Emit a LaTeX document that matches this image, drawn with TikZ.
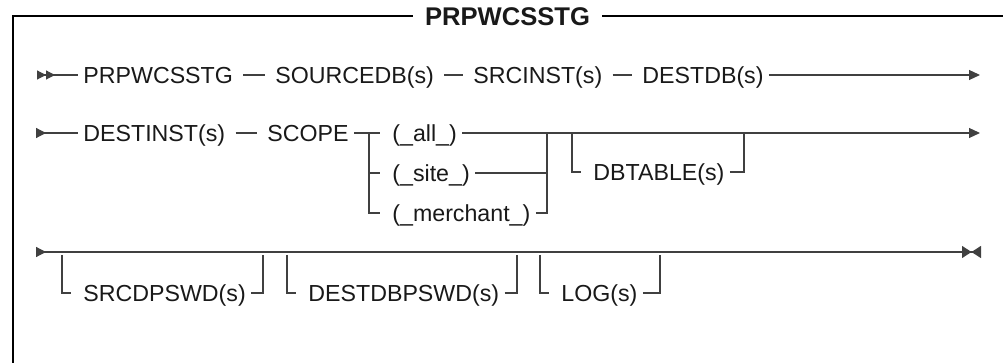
\documentclass[tikz,border=0pt]{standalone}
\usepackage{fontspec}
\setmainfont{Liberation Sans}
\usetikzlibrary{arrows.meta}

\tikzset{%
  rail/.style={draw=black!75, line width=0.6pt},%
  word/.style={anchor=west, inner xsep=2.5pt, inner ysep=0pt, text height=8.3pt, text depth=0pt, text=black!90, font=\fontsize{11.6pt}{14pt}\selectfont},%
  link/.style={rail, shorten <=2.5pt, shorten >=2.5pt},%
  stub/.style={rail, shorten >=3.5pt},%
  boxline/.style={draw=black, line width=1.1pt, line join=miter},%
  onward/.style={rail, -{Triangle[length=5.5pt,width=5pt]}},%
}

\begin{document}
\begin{tikzpicture}[x=0.5pt,y=-0.5pt]%
\useasboundingbox (0,0) rectangle (1003,363);%
% frame and title
\node[font=\bfseries\fontsize{12.8pt}{15pt}\selectfont, inner xsep=6pt, inner ysep=0pt, text height=9.2pt, text depth=0pt, text=black!90] (title) at (507.5,16) {PRPWCSSTG};%
\coordinate (fnw) at (13,16);%
\coordinate (fne) at (1003,16);%
\coordinate (fsw) at (13,363);%
\draw[boxline] (title.west) -- (fnw) -- (fsw);%
\draw[boxline] (title.east) -- (fne);%
% first row
\coordinate (start1) at (37,75);%
\coordinate (end1) at (980,75);%
\node[word] (prp) at (78,75) {PRPWCSSTG};%
\node[word] (srcdb) at (270,75) {SOURCEDB(s)};%
\node[word] (srcinst) at (468,75) {SRCINST(s)};%
\node[word] (destdb) at (637,75) {DESTDB(s)};%
\draw[rail, {Triangle[reversed,length=4.5pt,width=4.5pt] Triangle[reversed,length=4.5pt,width=4.5pt]}-] (start1) -- (prp.west);%
\draw[link] (prp.east) -- (srcdb.west);%
\draw[link] (srcdb.east) -- (srcinst.west);%
\draw[link] (srcinst.east) -- (destdb.west);%
\draw[onward] (destdb.east) -- (end1);%
% second row, scope choice
\coordinate (start2) at (36,133);%
\coordinate (end2) at (980,133);%
\node[word] (destinst) at (78,133) {DESTINST(s)};%
\node[word] (scope) at (262,133) {SCOPE};%
\node[word] (all) at (387,133) {(\_all\_)};%
\node[word] (site) at (387,173) {(\_site\_)};%
\node[word] (merchant) at (387,213) {(\_merchant\_)};%
\coordinate (forkin) at (369,133);%
\coordinate (forkout) at (547,133);%
\draw[rail, {Triangle[reversed,length=5pt,width=5pt]}-] (start2) -- (destinst.west);%
\draw[link] (destinst.east) -- (scope.west);%
\draw[stub] (scope.east) -- (all.west);%
\draw[stub] (forkin) |- (merchant.west);%
\draw[stub] (forkin |- site.west) -- (site.west);%
\draw[rail] (site.east) -| (forkout);%
\draw[rail] (merchant.east) -| (forkout);%
\draw[onward] (all.east) -- (end2);%
% optional table
\node[word] (dbtable) at (588,172) {DBTABLE(s)};%
\coordinate (optin) at (572,133);%
\coordinate (optout) at (744,133);%
\draw[stub] (optin) |- (dbtable.west);%
\draw[rail] (dbtable.east) -| (optout);%
% third row, optional passwords and log
\coordinate (start3) at (36,252);%
\coordinate (end3) at (981,252);%
\draw[rail, {Triangle[reversed,length=5pt,width=5pt]}-{Triangle[length=4.75pt,width=6pt] Triangle[reversed,length=4.75pt,width=6pt]}] (start3) -- (end3);%
\foreach \name/\lft/\txt/\rgt in {srcpw/62/SRCDPSWD(s)/263, destpw/287/DESTDBPSWD(s)/517, log/540/LOG(s)/660} {%
  \coordinate (\name-in) at (\lft,255);%
  \coordinate (\name-out) at (\rgt,255);%
  \node[word] (\name) at (\lft+16,293) {\txt};%
  \draw[stub] (\name-in) |- (\name.west);%
  \draw[rail] (\name.east) -| (\name-out);%
}%
\end{tikzpicture}
\end{document}
